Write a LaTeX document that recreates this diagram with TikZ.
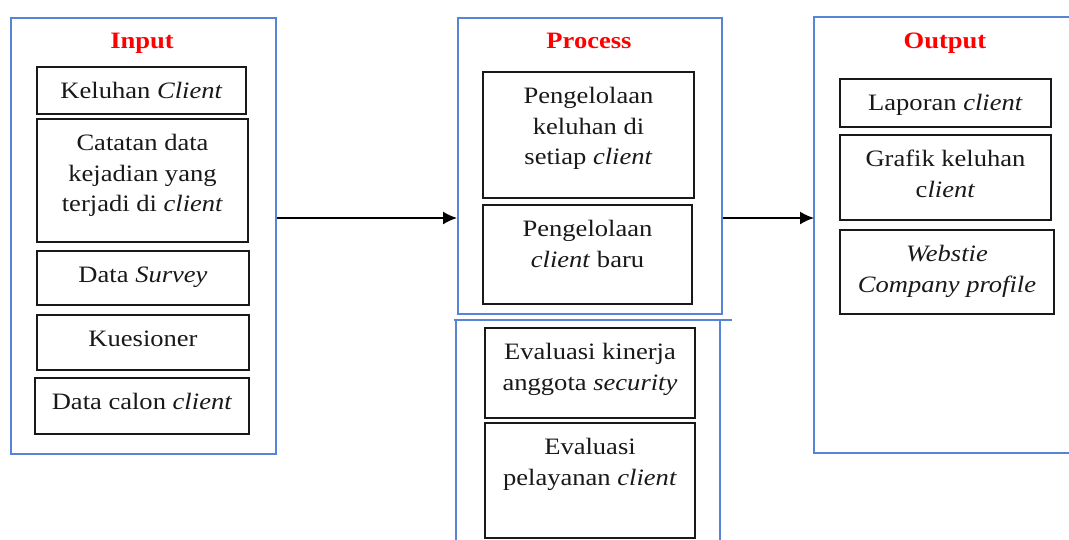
\documentclass[tikz,border=0pt]{standalone}
\usepackage{fontspec}
\setmainfont{Liberation Serif}[FakeStretch=1.13]
\usetikzlibrary{arrows.meta}
\definecolor{frameblue}{RGB}{88,132,214}
\definecolor{boxline}{RGB}{25,25,25}
\definecolor{titlered}{RGB}{255,0,0}

% a framed item box whose text sits near its top edge
\newcommand{\itembox}[6]{%
  \node[box, minimum width={#4-#2}, minimum height={#5-#3}] (#1) at (#2,#3) {};
  \node[txt] (#1-t) at (#1.north) {\strut #6};
}

\begin{document}
\begin{tikzpicture}[x=1pt,y=-1pt,
  frame/.style={draw=frameblue, line width=2pt, inner sep=0pt, anchor=north west},
  openframe/.style={draw=frameblue, line width=2pt},
  box/.style={draw=boxline, line width=2pt, inner sep=0pt, anchor=north west},
  txt/.style={anchor=north, inner sep=0pt, align=center, text=boxline,
    font=\fontsize{23.5}{30.5}\selectfont, yshift=-11pt},
  ttl/.style={anchor=base, inner sep=0pt, text=titlered,
    font=\fontsize{23.5}{28}\selectfont\bfseries},
  flow/.style={draw=black, line width=1.6pt, -{Latex[length=14pt,width=13pt]}}
]
\useasboundingbox (0,0) rectangle (1069,539);
\fill[white] (0,0) rectangle (1069,539);

% frames
\node[frame, minimum width=265, minimum height=436] (inp) at (10,17) {};
\node[frame, minimum width=264, minimum height=296] (proc) at (457,17) {};
\node[inner sep=0pt, anchor=north west, minimum width=264, minimum height=222] (proc2) at (456,320) {};
\draw[openframe] (proc2.south west) -- (proc2.north west) -- (proc2.north east) -- (proc2.south east);
\draw[openframe] (proc2.north west) -- ++(-2,0);
\draw[openframe] (proc2.north east) -- ++(12,0);
\node[inner sep=0pt, anchor=north west, minimum width=258, minimum height=436] (out) at (814,17) {};
\draw[openframe] (out.north east) -- (out.north west) -- (out.south west) -- (out.south east);

% titles
\node[ttl] (tin) at (142,48) {Input};
\node[ttl] (tproc) at (589,48) {Process};
\node[ttl] (tout) at (945,48) {Output};

% input items
\itembox{k1}{36}{66}{245}{113}{Keluhan \textit{Client}}
\itembox{k2}{36}{118}{247}{241}{Catatan data\\kejadian yang\\terjadi di \textit{client}}
\itembox{k3}{36}{250}{248}{304}{Data \textit{Survey}}
\itembox{k4}{36}{314}{248}{369}{Kuesioner}
\itembox{k5}{34}{377}{248}{433}{Data calon \textit{client}}

% process items
\itembox{p1}{482}{71}{693}{197}{Pengelolaan\\keluhan di\\setiap \textit{client}}
\itembox{p2}{482}{204}{691}{303}{Pengelolaan\\\textit{client} baru}
\itembox{p3}{484}{327}{694}{417}{Evaluasi kinerja\\anggota \textit{security}}
\itembox{p4}{484}{422}{694}{537}{Evaluasi\\pelayanan \textit{client}}

% output items
\itembox{o1}{839}{78}{1050}{126}{Laporan \textit{client}}
\itembox{o2}{839}{134}{1050}{219}{Grafik keluhan\\c\textit{lient}}
\itembox{o3}{839}{229}{1053}{313}{\textit{Webstie}\\\textit{Company profile}}

% flow arrows
\coordinate (ay) at (0,218);
\draw[flow] (inp.east |- ay) -- (proc.west |- ay);
\draw[flow] (proc.east |- ay) -- (out.west |- ay);
\end{tikzpicture}
\end{document}
